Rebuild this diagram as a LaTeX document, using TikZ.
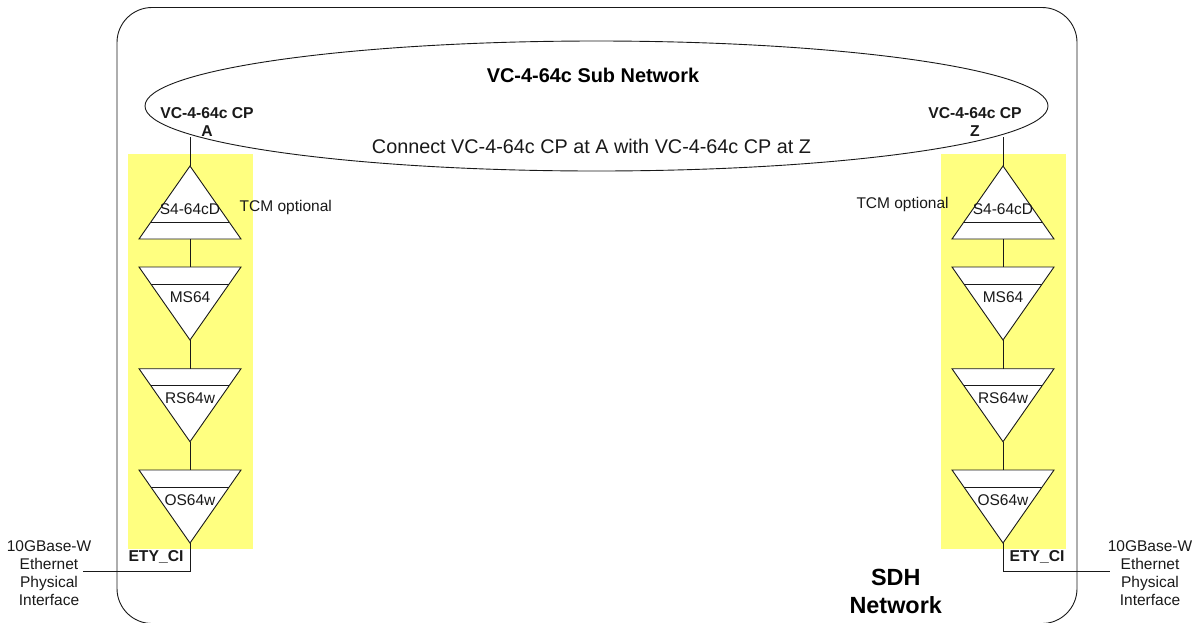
\documentclass[tikz,border=0pt]{standalone}
\usepackage{fontspec}
\setmainfont{Liberation Sans}
\definecolor{pale}{RGB}{255,255,128}
\definecolor{ink}{RGB}{25,25,25}
\tikzset{
  x=1pt,y=-1pt,
  wire/.style={draw=ink,line width=0.9pt},
  tri/.style={draw=ink,fill=white,line width=0.9pt,line join=miter},
  big/.style={inner sep=0pt,font=\fontsize{19.8}{20}\selectfont,text=ink},
  small/.style={inner sep=0pt,align=center,font=\fontsize{15.5}{18}\selectfont,text=ink},
  boldlab/.style={inner sep=0pt,align=center,font=\fontsize{15.7}{18}\bfseries\selectfont,text=ink},
  titlelab/.style={inner sep=0pt,align=center,font=\fontsize{19.9}{20}\bfseries\selectfont,text=black},
  huge lab/.style={inner sep=0pt,align=center,font=\fontsize{23.4}{28}\bfseries\selectfont,text=black},
}
% name, centre x, base y, label, label y : triangle with its point up
\newcommand{\uptri}[5]{%
  \draw[tri] (#2,#3-73) coordinate (#1top) -- (#2+51,#3) -- (#2-51,#3) -- cycle;
  \coordinate (#1bot) at (#2,#3);
  \draw[tri] (#2-39.4,#3-17) -- (#2+39.4,#3-17);
  \node[small] (#1text) at (#2,#5) {#4};
}
% name, centre x, base y, label, label y : triangle with its point down
\newcommand{\downtri}[5]{%
  \draw[tri] (#2,#3) coordinate (#1top) -- (#2+51,#3) -- (#2,#3+73) coordinate (#1bot) -- (#2-51,#3) -- cycle;
  \draw[tri] (#2-39.4,#3+17) -- (#2+39.4,#3+17);
  \node[small] (#1text) at (#2,#5) {#4};
}
\begin{document}
\begin{tikzpicture}
\useasboundingbox (0,0) rectangle (1198,622);
\fill[pale] (128,154) rectangle (253,549);
\fill[pale] (941.3,154) rectangle (1066,549);
\begin{scope}
\clip (0,0) rectangle (1198,622);
\draw[draw=ink,line width=0.9pt,rounded corners=35] (117,7.5) rectangle (1077,623.5);
\end{scope}
\draw[wire] (596.5,106) ellipse [x radius=451.5, y radius=65];
\coordinate (cpa) at (190,137);
\coordinate (cpz) at (1003,137);
\coordinate (ifa) at (83,571.7);
\coordinate (ifz) at (1110,571.7);
\coordinate (ca) at (190,571.7);
\coordinate (cz) at (1003,571.7);
% left chain
\uptri{a1}{190}{239}{S4-64cD}{209}
\downtri{a2}{190}{267}{MS64}{296.7}
\downtri{a3}{190}{368.7}{RS64w}{398.5}
\downtri{a4}{190}{470}{OS64w}{499.8}
% right chain
\uptri{z1}{1003}{239}{S4-64cD}{209}
\downtri{z2}{1003}{267}{MS64}{296.7}
\downtri{z3}{1003}{368.7}{RS64w}{398.5}
\downtri{z4}{1003}{470}{OS64w}{499.8}
% connectors
\draw[wire] (cpa) -- (a1top);
\draw[wire] (a1bot) -- (a2top);
\draw[wire] (a2bot) -- (a3top);
\draw[wire] (a3bot) -- (a4top);
\draw[wire] (a4bot) -- (ca) -- (ifa);
\draw[wire] (cpz) -- (z1top);
\draw[wire] (z1bot) -- (z2top);
\draw[wire] (z2bot) -- (z3top);
\draw[wire] (z3bot) -- (z4top);
\draw[wire] (z4bot) -- (cz) -- (ifz);
% labels
\node[titlelab] (title) at (593,75.5) {VC-4-64c Sub Network};
\node[big] (conn) at (591.5,146) {Connect VC-4-64c CP at A with VC-4-64c CP at Z};
\node[boldlab] (labA) at (207,122) {VC-4-64c CP\\A};
\node[boldlab] (labZ) at (975,122) {VC-4-64c CP\\Z};
\node[small,anchor=west] (tcma) at (239.5,207) {TCM optional};
\node[small,anchor=west] (tcmz) at (856.3,204) {TCM optional};
\node[boldlab] (etya) at (156,557) {ETY\_CI};
\node[boldlab] (etyz) at (1037,557) {ETY\_CI};
\node[small] (phya) at (49,573.5) {10GBase-W\\Ethernet\\Physical\\Interface};
\node[small] (phyz) at (1150,573.5) {10GBase-W\\Ethernet\\Physical\\Interface};
\node[huge lab] (sdh) at (895.7,591) {SDH\\Network};
\end{tikzpicture}
\end{document}
